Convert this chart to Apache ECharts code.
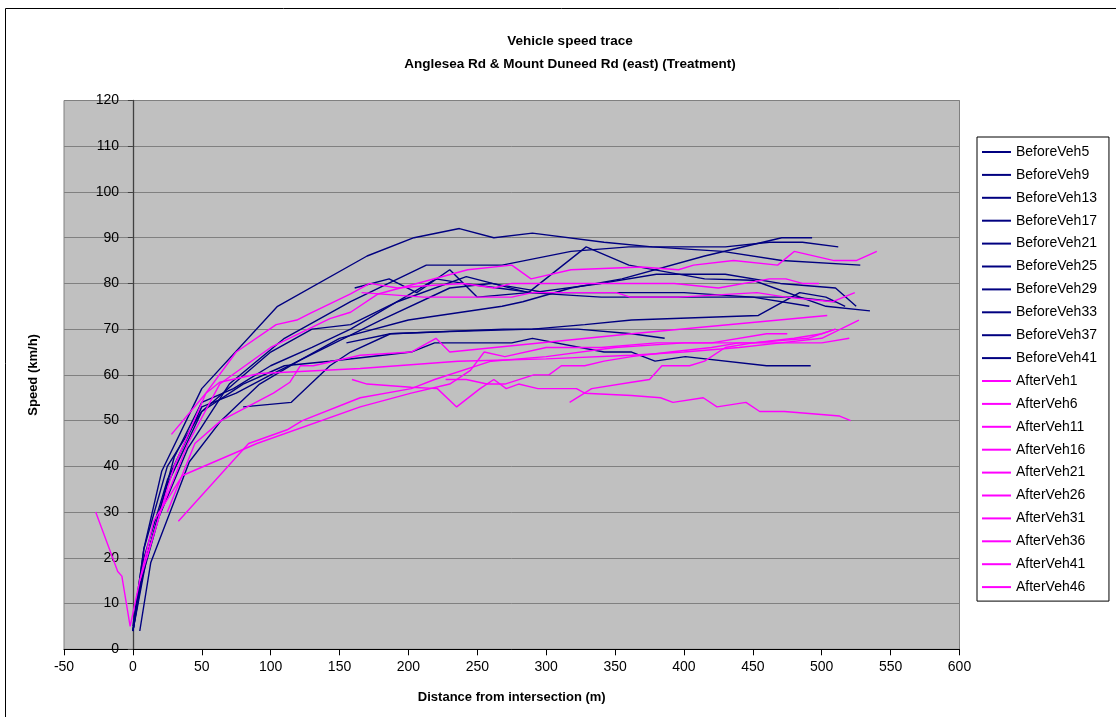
<!DOCTYPE html>
<html>
<head>
<meta charset="utf-8">
<script src="https://cdn.jsdelivr.net/npm/echarts@6/dist/echarts.min.js"></script>
<style>
html,body{margin:0;padding:0;background:#fff;}
#chart{width:1116px;height:717px;}
</style>
</head>
<body>
<div id="chart"></div>
<script>
// Axis ticks
const xTicks = [-50, 0, 50, 100, 150, 200, 250, 300, 350, 400, 450, 500, 550, 600];
const yTicks = [0, 10, 20, 30, 40, 50, 60, 70, 80, 90, 100, 110, 120];

// Series names
const beforeNames = ['BeforeVeh5','BeforeVeh9','BeforeVeh13','BeforeVeh17','BeforeVeh21','BeforeVeh25','BeforeVeh29','BeforeVeh33','BeforeVeh37','BeforeVeh41'];
const afterNames = ['AfterVeh1','AfterVeh6','AfterVeh11','AfterVeh16','AfterVeh21','AfterVeh26','AfterVeh31','AfterVeh36','AfterVeh41','AfterVeh46'];

// [distance (m), speed (km/h)]
const beforeVeh5  = [[0,5],[8,22],[21,39],[50,57],[105,75],[170,86],[204,90],[237,92],[262,90],[290,91],[342,89],[377,88],[428,87],[471,85],[528,84]];
const beforeVeh9  = [[0,4],[6,15],[19,29],[40,44],[70,58],[110,68],[158,76],[213,84],[268,84],[318,87],[360,88],[430,88],[462,89],[486,89],[512,88]];
const beforeVeh13 = [[5,4],[13,19],[41,41],[64,50],[92,58],[120,63],[150,68],[200,72],[268,75],[283,76],[318,79],[355,81],[415,86],[471,90],[493,90]];
const beforeVeh17 = [[0,4],[8,22],[25,40],[50,52],[73,58],[100,65],[130,70],[158,71],[192,76],[242,81.5],[287,78],[329,88],[360,84],[415,81],[450,80.7],[503,75],[535,74]];
const beforeVeh21 = [[161,79],[186,81],[206,78],[230,83],[250,77],[287,78],[340,77],[400,77],[450,77],[491,75]];
const beforeVeh25 = [[0,4],[10,20],[30,42],[50,54],[73,57],[100,62],[130,66],[158,70],[186,75],[220,81],[240,80],[265,79],[290,78],[340,80],[380,82],[430,82],[470,80],[510,79],[525,75]];
const beforeVeh29 = [[155,67],[187,69],[269,70],[323,70],[362,69],[386,68]];
const beforeVeh33 = [[0,4],[8,18],[25,36],[50,52],[80,58],[110,62],[143,63],[202,65],[219,67],[275,67],[290,68],[342,65],[362,65],[379,63],[401,64],[460,62],[492,62]];
const beforeVeh37 = [[80,53],[115,54],[143,62],[158,65],[187,69],[230,69.5],[290,70],[328,71],[362,72],[454,73],[484,78],[503,77],[517,75]];
const beforeVeh41 = [[0,4],[8,20],[25,37],[50,53],[75,56],[100,60],[140,66],[180,72],[230,79],[260,80],[300,78],[350,78],[400,78],[450,77],[480,77],[510,76]];

const afterVeh1  = [[-27,30],[-11,17],[-8,16],[-2,5],[5,15],[15,28],[36,38],[90,45],[165,53],[202,56],[230,58],[245,61],[255,65],[270,64],[300,66],[340,66],[380,67],[420,67],[460,69],[475,69]];
const afterVeh6  = [[33,28],[84,45],[112,48],[123,50],[165,55],[202,57],[219,59],[260,63],[300,64],[350,66],[400,67],[450,67],[490,68],[510,70]];
const afterVeh11 = [[28,47],[53,56],[75,65],[104,71],[119,72],[129,73.5],[158,77.7],[172,80],[192,79],[218,79.6],[240,80],[262,79],[275,80],[326,80],[393,80],[425,79],[462,81],[474,81],[486,80],[498,80]];
const afterVeh16 = [[5,15],[20,30],[40,45],[63,58],[100,66],[143,72.3],[158,73.7],[178,77.7],[243,83],[275,84],[289,81],[318,83],[369,83.6],[396,83],[407,84],[436,85],[468,84],[480,87],[509,85],[525,85],[540,87]];
const afterVeh21 = [[166,78],[211,77],[250,77],[275,77],[290,78],[326,78],[351,78],[361,77],[396,77],[453,78],[474,77],[508,76],[524,78]];
const afterVeh26 = [[25,30],[45,45],[64,50],[102,56],[114,58.4],[121.5,62],[131,62],[165,64.3],[202,65],[220,68],[230,65],[362,69],[504,73]];
const afterVeh31 = [[10,20],[30,40],[53,56],[63,58.4],[92,60.3],[165,61.4],[236,63],[300,63.5],[362,64.3],[400,65],[440,66],[470,67],[500,67],[520,68]];
const afterVeh36 = [[159,59],[170,58],[202,57.3],[221,57],[235,53],[252,57],[262,59],[271,57],[280,58],[294,57],[322,57],[328,56],[362,55.5],[383,55],[392,54],[414,55],[424,53],[445,54],[455,52],[473,52],[513,51],[521,50]];
const afterVeh41 = [[227,59],[242,59],[257,58],[270,58],[291,60],[302,60],[311,62],[328,62],[342,63],[362,64],[390,65],[420,66],[440,67],[470,67],[500,68],[527,72]];
const afterVeh46 = [[317,54],[333,57],[362,58.4],[375,59],[384,62],[404,62],[415,63],[430,66],[450,67],[480,68],[500,69],[510,70]];

const beforeData = [beforeVeh5, beforeVeh9, beforeVeh13, beforeVeh17, beforeVeh21, beforeVeh25, beforeVeh29, beforeVeh33, beforeVeh37, beforeVeh41];
const afterData = [afterVeh1, afterVeh6, afterVeh11, afterVeh16, afterVeh21, afterVeh26, afterVeh31, afterVeh36, afterVeh41, afterVeh46];

const FONT = 'Liberation Sans, Arial, sans-serif';
const BLUE = '#000080', PINK = '#FF00FF';
const series = [];
beforeNames.forEach((n, i) => series.push({
  name: n, type: 'line', data: beforeData[i], symbol: 'none', silent: true,
  lineStyle: { color: BLUE, width: 1.4 }, itemStyle: { color: BLUE }, animation: false
}));
afterNames.forEach((n, i) => series.push({
  name: n, type: 'line', data: afterData[i], symbol: 'none', silent: true,
  lineStyle: { color: PINK, width: 1.4 }, itemStyle: { color: PINK }, animation: false
}));

const legendIcon = 'path://M0,6 L29,6 L29,8 L0,8 Z';
const legendData = beforeNames.map(n => ({ name: n, icon: legendIcon, itemStyle: { color: BLUE } }))
  .concat(afterNames.map(n => ({ name: n, icon: legendIcon, itemStyle: { color: PINK } })));

const chart = echarts.init(document.getElementById('chart'), null, { renderer: 'canvas' });
chart.setOption({
  backgroundColor: '#ffffff',
  animation: false,
  graphic: [{
    type: 'rect', left: 3, top: 6, silent: true, z: -10,
    shape: { width: 1120, height: 720 },
    style: { fill: 'none', stroke: '#000', lineWidth: 1 }
  }],
  title: {
    text: 'Vehicle speed trace\nAnglesea Rd & Mount Duneed Rd (east) (Treatment)',
    left: 565, top: 25, textAlign: 'center',
    textStyle: { fontFamily: FONT, fontSize: 13.5, fontWeight: 'bold', color: '#000', lineHeight: 23 }
  },
  legend: {
    orient: 'vertical', left: 977, top: 137,
    data: legendData,
    itemWidth: 29, itemHeight: 14, itemGap: 8.9,
    itemStyle: { borderWidth: 0 },
    lineStyle: { width: 0, opacity: 0 },
    padding: [8, 12, 7, 5],
    backgroundColor: '#fff', borderColor: '#000', borderWidth: 1, borderRadius: 0,
    textStyle: { fontFamily: FONT, fontSize: 14, color: '#000' },
    selectedMode: false
  },
  grid: {
    left: 64, right: 156.5, top: 100.5, bottom: 67.7, containLabel: false,
    outerBoundsMode: 'none',
    show: true, backgroundColor: '#C0C0C0', borderColor: '#808080', borderWidth: 1
  },
  xAxis: {
    type: 'value', min: xTicks[0], max: xTicks[xTicks.length - 1], interval: 50,
    name: 'Distance from intersection (m)', nameLocation: 'middle', nameGap: 42,
    nameTextStyle: { fontFamily: FONT, fontSize: 13, fontWeight: 'bold', color: '#000' },
    axisLine: { show: true, onZero: false, lineStyle: { color: '#000', width: 1 } },
    axisTick: { show: true, inside: false, length: 6, lineStyle: { color: '#000' } },
    axisLabel: { fontFamily: FONT, fontSize: 14, color: '#000', margin: 11 },
    splitLine: { show: false }
  },
  yAxis: {
    type: 'value', min: yTicks[0], max: yTicks[yTicks.length - 1], interval: 10,
    name: 'Speed (km/h)', nameLocation: 'middle', nameGap: 24, nameRotate: 90,
    nameTextStyle: { fontFamily: FONT, fontSize: 13, fontWeight: 'bold', color: '#000' },
    axisLine: { show: true, onZero: true, lineStyle: { color: '#404040', width: 1.3 } },
    axisTick: { show: true, inside: false, length: 5, lineStyle: { color: '#404040' } },
    axisLabel: { fontFamily: FONT, fontSize: 14, color: '#000', margin: -55 },
    splitLine: { show: true, lineStyle: { color: '#808080', width: 1 } }
  },
  series: series
});
</script>
</body>
</html>
